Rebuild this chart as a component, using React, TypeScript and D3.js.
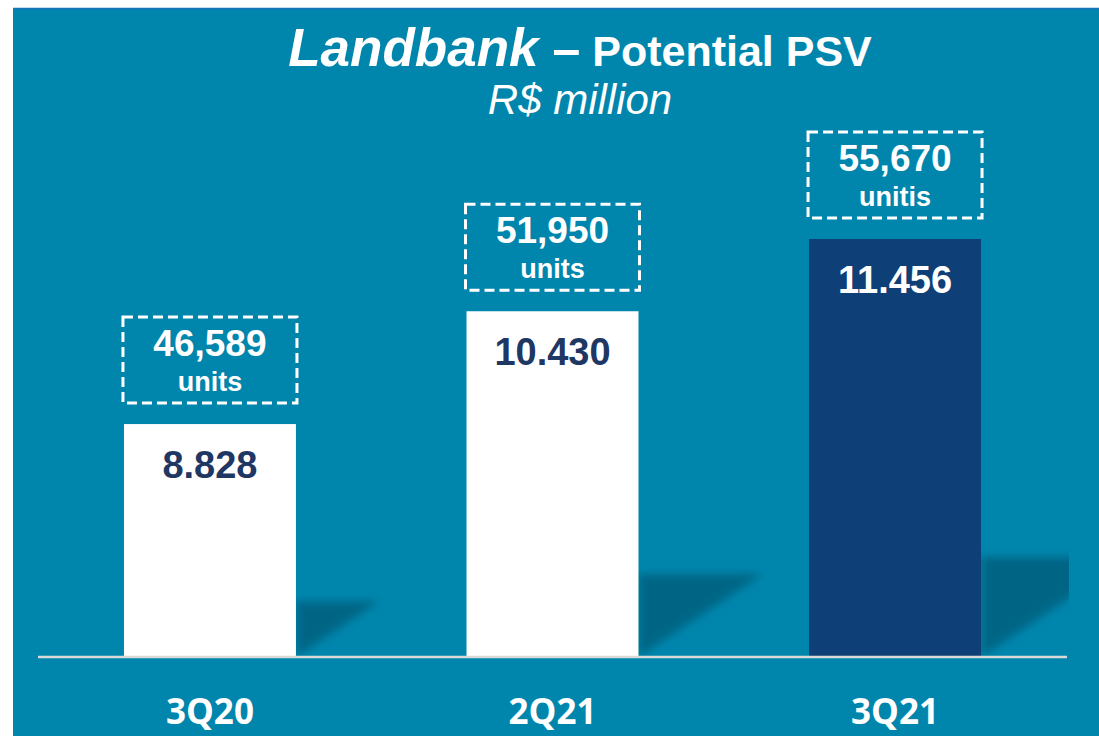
import React from "react";
import * as d3 from "d3";

const categories = ["3Q20", "2Q21", "3Q21"];
const psvValues = [8828, 10430, 11456];
const psvLabels = ["8.828", "10.430", "11.456"];
const unitValues = ["46,589", "51,950", "55,670"];
const unitWords = ["units", "units", "unitis"];
const highlight = [false, false, true];

const W = 1099;
const H = 736;
const BG = "#0086ad";
const NAVY = "#0e3f77";
const TEXT_NAVY = "#1f3763";
const BASE_Y = 657;

export default function App() {
  const x = d3
    .scaleBand<string>()
    .domain(categories)
    .range([38, 1067])
    .paddingInner(0.498)
    .paddingOuter(0.251);
  const y = d3.scaleLinear().domain([5520, 11456]).range([BASE_Y, 239]);

  const boxW = 174;
  const boxH = 86;
  const boxGap = 21;
  const shadowH = (v: number) => (BASE_Y - y(v)) * 0.24;

  return (
    <svg
      width={W}
      height={H}
      style={{ position: "fixed", left: 0, top: 0, display: "block" }}
      fontFamily="'Liberation Sans', Arial, sans-serif"
    >
      <defs>
        <filter id="blur" x="-20%" y="-20%" width="140%" height="140%">
          <feGaussianBlur stdDeviation="4" />
        </filter>
        <clipPath id="plotClip">
          <rect x={13} y={8} width={1069 - 13} height={BASE_Y - 8} />
        </clipPath>
      </defs>
      <rect x={0} y={0} width={W} height={H} fill="#ffffff" />
      <rect x={13} y={8} width={W - 13} height={H - 8} fill={BG} />
      <line x1={13} x2={W} y1={8.5} y2={8.5} stroke="#1a72bb" strokeWidth={1.5} />

      {/* shadows */}
      <g clipPath="url(#plotClip)">
        {categories.map((c, i) => {
          const right = (x(c) ?? 0) + x.bandwidth();
          const h = shadowH(psvValues[i]);
          const top = BASE_Y - h;
          const pts = [
            [right, top],
            [right + h * 1.5, top],
            [right, BASE_Y],
          ]
            .map((p) => p.join(","))
            .join(" ");
          return (
            <polygon key={c} points={pts} fill="#00617f" opacity={0.85} filter="url(#blur)" />
          );
        })}
      </g>

      {/* bars */}
      {categories.map((c, i) => (
        <rect
          key={c}
          x={x(c)}
          y={y(psvValues[i])}
          width={x.bandwidth()}
          height={BASE_Y - y(psvValues[i])}
          fill={highlight[i] ? NAVY : "#ffffff"}
        />
      ))}

      {/* baseline */}
      <line x1={38} x2={1067} y1={BASE_Y} y2={BASE_Y} stroke="#d9d9d9" strokeWidth={2.5} />

      {/* value labels */}
      {categories.map((c, i) => (
        <text
          key={c}
          x={(x(c) ?? 0) + x.bandwidth() / 2}
          y={y(psvValues[i]) + 54}
          textAnchor="middle"
          fontSize={38}
          fontWeight="bold"
          fill={highlight[i] ? "#ffffff" : TEXT_NAVY}
        >
          {psvLabels[i]}
        </text>
      ))}

      {/* unit boxes */}
      {categories.map((c, i) => {
        const cx = (x(c) ?? 0) + x.bandwidth() / 2;
        const bottom = y(psvValues[i]) - boxGap;
        const top = bottom - boxH;
        return (
          <g key={c}>
            <rect
              x={cx - boxW / 2}
              y={top}
              width={boxW}
              height={boxH}
              fill="none"
              stroke="#ffffff"
              strokeWidth={3}
              strokeDasharray="10 5"
            />
            <text
              x={cx}
              y={top + 39}
              textAnchor="middle"
              fontSize={37}
              fontWeight="bold"
              fill="#ffffff"
            >
              {unitValues[i]}
            </text>
            <text
              x={cx}
              y={top + 74}
              textAnchor="middle"
              fontSize={27}
              fontWeight="bold"
              fill="#ffffff"
            >
              {unitWords[i]}
            </text>
          </g>
        );
      })}

      {/* category labels */}
      {categories.map((c) => (
        <text
          key={c}
          x={(x(c) ?? 0) + x.bandwidth() / 2}
          y={724}
          textAnchor="middle"
          fontSize={35}
          fontWeight="bold"
          fontFamily="'Open Sans', sans-serif"
          fill="#ffffff"
        >
          {c}
        </text>
      ))}

      {/* title */}
      <text x={580} y={66} textAnchor="middle" fill="#ffffff" fontWeight="bold">
        <tspan fontSize={53} fontStyle="italic">
          Landbank
        </tspan>
        <tspan fontSize={50}> –</tspan>
        <tspan fontSize={43}> Potential PSV</tspan>
      </text>
      <text x={580} y={114} textAnchor="middle" fill="#ffffff" fontSize={42} fontStyle="italic">
        R$ million
      </text>
    </svg>
  );
}
